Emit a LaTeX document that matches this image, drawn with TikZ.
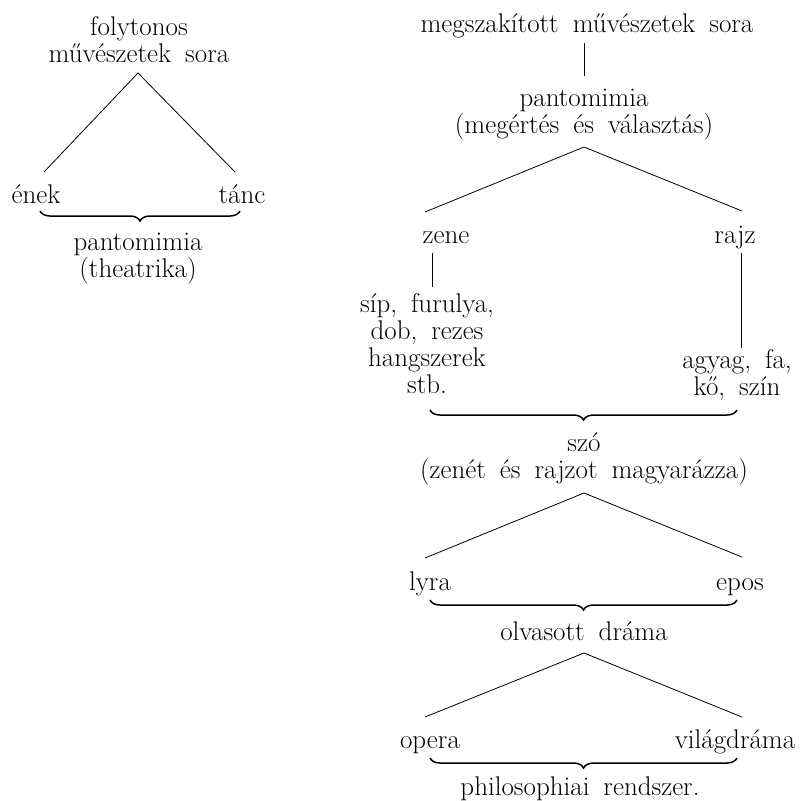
\documentclass[tikz,border=0pt]{standalone}
\usepackage{tikz}
\usetikzlibrary{decorations.pathreplacing}

\newcommand\betu{\fontsize{27}{27}\selectfont\spaceskip=14pt\relax}

\tikzset{
  szoveg/.style={anchor=base, align=center, inner sep=0pt, font=\betu},
  ag/.style={line width=0.8pt},
  kapocs/.style={decorate, decoration={brace, mirror, amplitude=10pt}, line width=1.5pt},
}

\begin{document}
\begin{tikzpicture}[x=1pt, y=-1pt]
			%%%%% START %%%%%
			\useasboundingbox (0, 0) rectangle (804, 801);
			
			% folytonos
			\node[szoveg] (folyt) at (139, 62) {folytonos\\művészetek sora};
			\node[szoveg] (enek) at (36, 203) {ének};
			\node[szoveg] (tanc) at (242, 203) {tánc};
			\node[szoveg] (pantoL) at (138, 277) {pantomimia\\(theatrika)};
			
			\coordinate (folytA) at (138, 73);
			\coordinate (enekF) at (44, 172);
			\coordinate (tancF) at (235, 172);
			\draw[ag] (enekF) -- (folytA) -- (tancF);
			\draw[kapocs] (40, 211) -- (240, 211);
			
			% megszakitott
			\node[szoveg] (megsz) at (587, 32) {megszakított művészetek sora};
			\node[szoveg] (pantoR) at (584, 133) {pantomimia\\(megértés és választás)};
			\coordinate (megszA) at (584, 43);
			\coordinate (pantoRF) at (584, 76);
			\draw[ag] (megszA) -- (pantoRF);
			
			\node[szoveg] (zene) at (446, 243) {zene};
			\node[szoveg] (rajz) at (735, 243) {rajz};
			\coordinate (pantoRA) at (584, 147);
			\coordinate (zeneF) at (425, 212);
			\coordinate (rajzF) at (742, 211);
			\draw[ag] (zeneF) -- (pantoRA) -- (rajzF);
			
			\node[szoveg] (hangsz) at (427, 393) {síp, furulya,\\dob, rezes\\hangszerek\\stb.};
			\node[szoveg] (agyag) at (737, 395) {agyag, fa,\\kő, szín};
			\coordinate (zeneA) at (432, 253);
			\coordinate (hangszF) at (432, 287);
			\coordinate (rajzA) at (741, 253);
			\coordinate (agyagF) at (741, 348);
			\draw[ag] (zeneA) -- (hangszF);
			\draw[ag] (rajzA) -- (agyagF);
			\draw[kapocs] (430, 410) -- (737, 410);
			
			\node[szoveg] (szo) at (584, 478) {szó\\(zenét és rajzot magyarázza)};
			\coordinate (szoA) at (584, 493);
			\coordinate (lyraF) at (425, 558);
			\coordinate (eposF) at (742, 557);
			\draw[ag] (lyraF) -- (szoA) -- (eposF);
			\node[szoveg] (lyra) at (430, 590) {lyra};
			\node[szoveg] (epos) at (740, 590) {epos};
			\draw[kapocs] (430, 600) -- (737, 600);
			
			\node[szoveg] (olv) at (584, 640) {olvasott dráma};
			\coordinate (olvA) at (584, 653);
			\coordinate (operaF) at (425, 717);
			\coordinate (vilagF) at (742, 717);
			\draw[ag] (operaF) -- (olvA) -- (vilagF);
			\node[szoveg] (opera) at (430, 748) {opera};
			\node[szoveg] (vilag) at (735, 748) {világdráma};
			\draw[kapocs] (430, 758) -- (737, 758);
			
			\node[szoveg] (phil) at (580, 795) {philosophiai rendszer.};
			%%%%% END %%%%%
\end{tikzpicture}
\end{document}
